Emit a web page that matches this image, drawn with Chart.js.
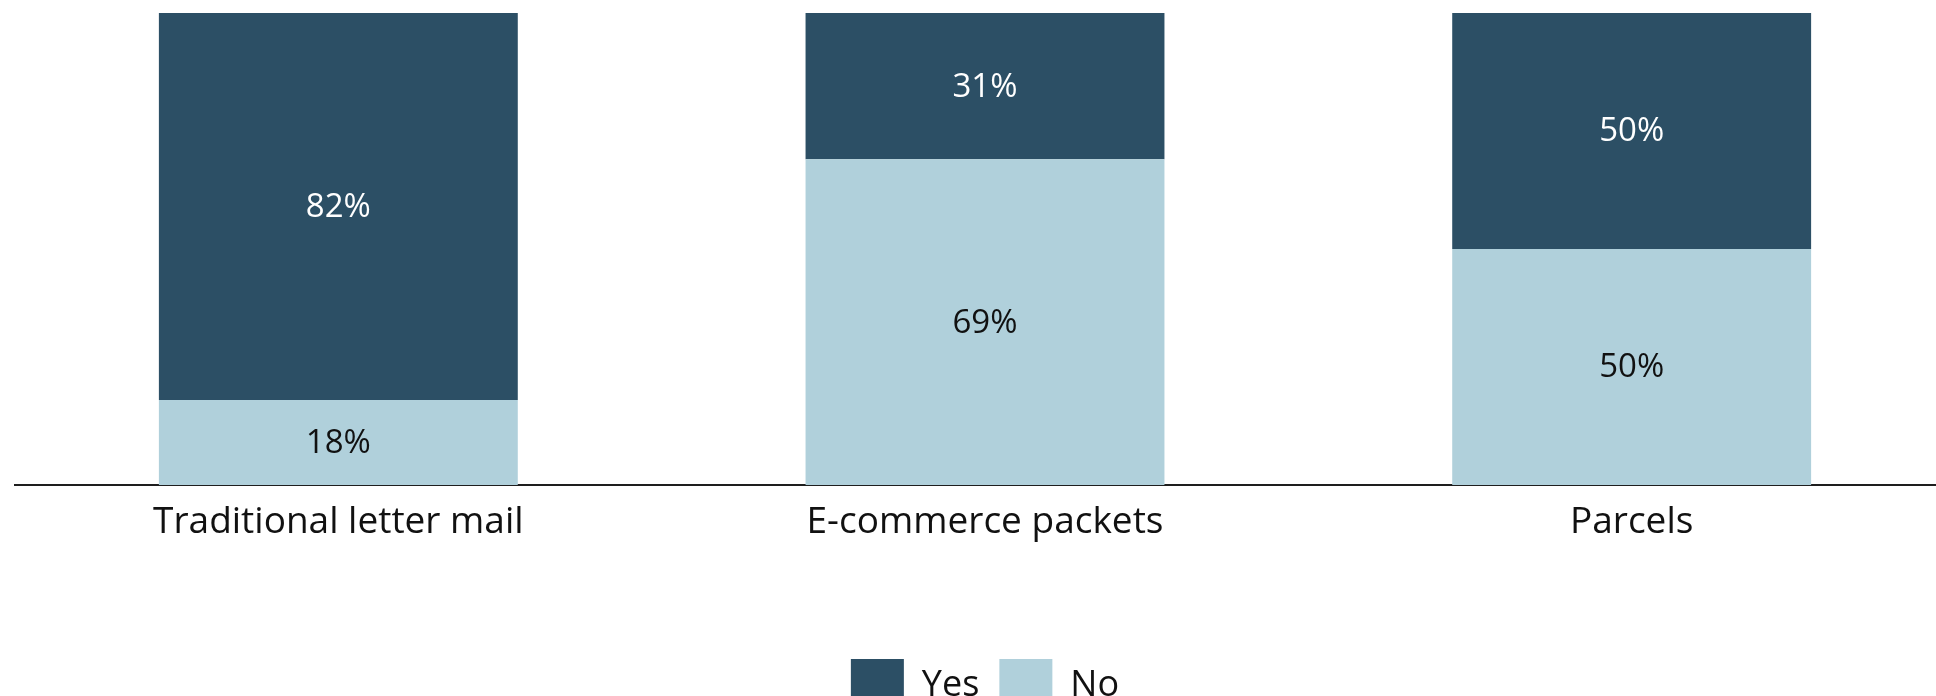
<!DOCTYPE html>
<html>
<head>
<meta charset="utf-8">
<script src="https://cdn.jsdelivr.net/npm/chart.js@4.4.1/dist/chart.umd.min.js"></script>
<style>
  html, body { margin: 0; padding: 0; background: #fff; }
  #wrap { width: 1936px; height: 696px; overflow: hidden; position: relative; }
  #box { width: 1956px; height: 722px; }
</style>
</head>
<body>
<div id="wrap"><div id="box"><canvas id="chart"></canvas></div></div>
<script>
// ---------- Data ----------
const categories = ["Traditional letter mail", "E-commerce packets", "Parcels"];
const yesValues  = [82, 31, 50];
const noValues   = [18, 69, 50];

const FONT = "'Open Sans', Lato, sans-serif";
const COLOR_YES = "#2c4f65";
const COLOR_NO  = "#b0d0db";

// ---------- Segment labels (no datalabels plugin offline) ----------
const segmentLabels = {
  id: "segmentLabels",
  afterDatasetsDraw(chart) {
    const ctx = chart.ctx;
    ctx.save();
    ctx.font = `33px ${FONT}`;
    ctx.textAlign = "center";
    ctx.textBaseline = "middle";
    chart.data.datasets.forEach((ds, i) => {
      const meta = chart.getDatasetMeta(i);
      meta.data.forEach((bar, j) => {
        const { x, y, base } = bar.getProps(["x", "y", "base"], true);
        ctx.fillStyle = ds.labelColor;
        ctx.fillText(ds.data[j] + "%", x, (y + base) / 2 + 1);
      });
    });
    ctx.restore();
  }
};

// ---------- Chart ----------
const ctx = document.getElementById("chart").getContext("2d");
new Chart(ctx, {
  type: "bar",
  data: {
    labels: categories,
    datasets: [
      { label: "Yes", data: yesValues, backgroundColor: COLOR_YES, labelColor: "#ffffff", stack: "s", order: 1 },
      { label: "No",  data: noValues,  backgroundColor: COLOR_NO,  labelColor: "#111111", stack: "s", order: 0 }
    ]
  },
  options: {
    responsive: true,
    maintainAspectRatio: false,
    animation: false,
    layout: { padding: { left: 15, right: 1, top: 13, bottom: 0 } },
    datasets: { bar: { categoryPercentage: 1, barPercentage: 0.555 } },
    plugins: {
      tooltip: { enabled: false },
      legend: {
        position: "bottom",
        reverse: true,
        labels: {
          boxWidth: 53,
          boxHeight: 53,
          padding: 20,
          color: "#111",
          font: { family: FONT, size: 36 }
        }
      }
    },
    scales: {
      x: {
        stacked: true,
        grid: { display: false },
        border: { display: true, color: "#1e1e1e", width: 2 },
        ticks: { color: "#111", padding: 7, font: { family: FONT, size: 37 } },
        afterFit(scale) { scale.height = 154; }
      },
      y: {
        stacked: true,
        display: false,
        min: 0,
        max: 100
      }
    }
  },
  plugins: [segmentLabels]
});
</script>
</body>
</html>
